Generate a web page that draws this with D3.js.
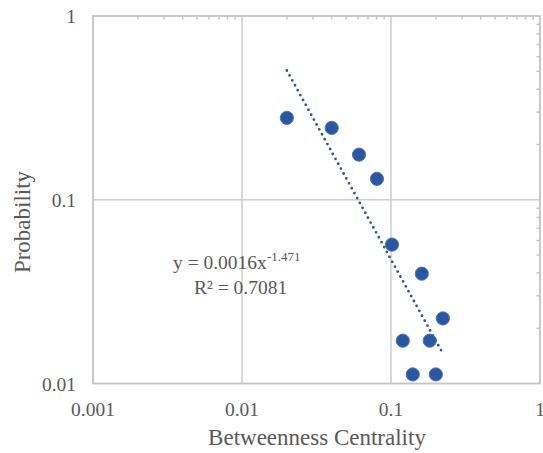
<!DOCTYPE html>
<html>
<head>
<meta charset="utf-8">
<script src="https://cdn.jsdelivr.net/npm/d3@7"></script>
<style>
  html, body { margin: 0; padding: 0; background: #fff; }
  svg { display: block; }
  text { font-family: "Liberation Serif", "Times New Roman", serif; fill: #595959; }
</style>
</head>
<body>
<svg id="chart" width="543" height="453"></svg>
<script>
// Betweenness centrality vs. probability (log-log)
const centrality  = [0.020, 0.040, 0.061, 0.0805, 0.1015, 0.161, 0.223, 0.120, 0.182, 0.140, 0.200];
const probability = [0.279, 0.246, 0.176, 0.130, 0.0570, 0.0396, 0.0226, 0.0171, 0.0171, 0.0112, 0.0112];
const xTicks = [0.001, 0.01, 0.1, 1];
const yTicks = [0.01, 0.1, 1];
const xTickLabels = ["0.001", "0.01", "0.1", "1"];
const yTickLabels = ["0.01", "0.1", "1"];
// power-law fit y = a * x^b
const fitA = 0.0016, fitB = -1.471, fitR2 = 0.7081;

const svg = d3.select("#chart");
const L = 93, R = 540, T = 16, B = 383.5;

const x = d3.scaleLog().domain([0.001, 1]).range([L, R]);
const y = d3.scaleLog().domain([0.01, 1]).range([B, T]);

const gridColor = "#d0d0d0";

// gridlines
svg.append("g").selectAll("line").data(xTicks.slice(1, -1)).join("line")
  .attr("x1", d => x(d)).attr("x2", d => x(d)).attr("y1", T).attr("y2", B)
  .attr("stroke", gridColor).attr("stroke-width", 1.6);
svg.append("g").selectAll("line").data(yTicks.slice(1, -1)).join("line")
  .attr("y1", d => y(d)).attr("y2", d => y(d)).attr("x1", L).attr("x2", R)
  .attr("stroke", gridColor).attr("stroke-width", 1.6);

// minor ticks on top and right edges
const minorX = [];
[0.001, 0.01, 0.1].forEach(dec => { for (let k = 2; k <= 9; k++) minorX.push(dec * k); });
const minorY = [];
[0.01, 0.1].forEach(dec => { for (let k = 2; k <= 9; k++) minorY.push(dec * k); });
svg.append("g").selectAll("line").data(minorX).join("line")
  .attr("x1", d => x(d)).attr("x2", d => x(d)).attr("y1", T).attr("y2", T + 3.5)
  .attr("stroke", "#c4c4c4").attr("stroke-width", 1.5);
svg.append("g").selectAll("line").data(minorY).join("line")
  .attr("y1", d => y(d)).attr("y2", d => y(d)).attr("x1", R).attr("x2", R - 3.5)
  .attr("stroke", "#c4c4c4").attr("stroke-width", 1.5);

// frame
svg.append("rect").attr("x", L).attr("y", T).attr("width", R - L).attr("height", B - T)
  .attr("fill", "none").attr("stroke", "#c4c4c4").attr("stroke-width", 1.8);

// tick labels
svg.append("g").selectAll("text").data(xTicks).join("text")
  .attr("x", d => x(d)).attr("y", 416).attr("text-anchor", "middle")
  .attr("font-size", 19.5).text((d, i) => xTickLabels[i]);
svg.append("g").selectAll("text").data(yTicks).join("text")
  .attr("x", 76).attr("y", d => y(d) + 7).attr("text-anchor", "end")
  .attr("font-size", 19.5).text((d, i) => yTickLabels[i]);

// axis titles
svg.append("text").attr("x", 317).attr("y", 445).attr("text-anchor", "middle")
  .attr("font-size", 23).text("Betweenness Centrality");
svg.append("text").attr("transform", "translate(30,222) rotate(-90)")
  .attr("text-anchor", "middle").attr("font-size", 23).text("Probability");

// trendline from the fitted power law
const xMin = d3.min(centrality), xMax = d3.max(centrality);
const fitPts = d3.range(0, 41).map(i => {
  const xv = Math.exp(Math.log(xMin) + (Math.log(xMax) - Math.log(xMin)) * i / 40);
  return [xv, fitA * Math.pow(xv, fitB)];
});
svg.append("path").datum(fitPts)
  .attr("d", d3.line().x(d => x(d[0])).y(d => y(d[1])))
  .attr("fill", "none").attr("stroke", "#2f5597").attr("stroke-width", 2.8)
  .attr("stroke-linecap", "round").attr("stroke-dasharray", "0,5.6");

// points
svg.append("g").selectAll("circle").data(centrality).join("circle")
  .attr("cx", d => x(d)).attr("cy", (d, i) => y(probability[i]))
  .attr("r", 6.6).attr("fill", "#2b56a0").attr("stroke", "#4a74bd").attr("stroke-width", 1);

// fit equation
const eq = svg.append("text").attr("x", 173).attr("y", 269).attr("font-size", 19.5);
eq.append("tspan").text("y = " + fitA + "x");
eq.append("tspan").attr("dy", -8).attr("font-size", 13).text(String(fitB));
const r2 = svg.append("text").attr("x", 194).attr("y", 294).attr("font-size", 19.5);
r2.append("tspan").text("R² = " + fitR2);
</script>
</body>
</html>
